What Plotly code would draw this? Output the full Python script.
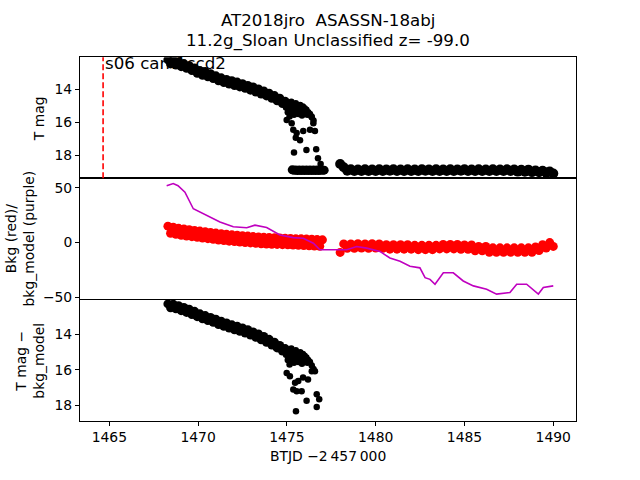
import plotly.graph_objects as go

# ---- data ----
SECTOR_START = 1464.65
SECTOR_LABEL = "s06 cam1ccd2"

# T mag, early decline (top panel)
t_decline = [1468.30, 1468.45, 1468.60, 1468.75, 1468.90, 1469.05, 1469.20, 1469.35, 1469.50, 1469.65,
             1469.80, 1469.95, 1470.10, 1470.25, 1470.40, 1470.55, 1470.70, 1470.85, 1471.00, 1471.15,
             1471.30, 1471.45, 1471.60, 1471.75, 1471.90, 1472.05, 1472.20, 1472.35, 1472.50, 1472.65,
             1472.80, 1472.95, 1473.10, 1473.25, 1473.40, 1473.55, 1473.70, 1473.85, 1474.00, 1474.15,
             1474.30, 1474.45, 1474.60, 1474.75, 1474.90, 1475.05]
mag_decline = [12.20, 12.45, 12.22, 12.52, 12.32, 12.62, 12.43, 12.72, 12.56, 12.86,
               12.70, 13.02, 12.86, 13.14, 12.92, 13.24, 13.05, 13.34, 13.18, 13.48,
               13.30, 13.58, 13.40, 13.68, 13.48, 13.77, 13.56, 13.85, 13.66, 13.94,
               13.76, 14.05, 13.86, 14.16, 13.98, 14.28, 14.10, 14.40, 14.24, 14.54,
               14.38, 14.70, 14.54, 14.86, 14.72, 15.04]

t_cluster = [1474.95, 1475.00, 1475.05, 1475.10, 1475.15, 1475.20, 1475.25, 1475.30, 1475.35, 1475.40,
             1475.45, 1475.50, 1475.55, 1475.60, 1475.65, 1475.70, 1475.75, 1475.80, 1475.85, 1475.90,
             1475.95, 1476.00, 1476.05, 1476.10, 1476.15, 1476.20, 1476.30, 1476.40, 1476.50]
mag_cluster = [15.10, 14.80, 15.40, 14.95, 15.65, 15.05, 14.75, 15.35, 14.90, 15.55,
               15.15, 14.85, 15.30, 15.00, 15.50, 15.10, 14.95, 15.25, 15.60, 15.05,
               15.35, 15.15, 15.45, 15.25, 15.55, 15.40, 15.50, 15.70, 15.90]

t_scatter = [1474.99, 1475.27, 1475.36, 1475.55, 1475.50, 1475.74, 1475.92, 1476.30, 1476.49, 1476.58,
             1476.39, 1475.40, 1476.10, 1476.65, 1476.75, 1476.90]
mag_scatter = [15.86, 16.06, 16.46, 16.66, 16.95, 17.10, 16.54, 16.46, 16.06, 16.54,
               15.66, 17.85, 17.70, 17.65, 18.20, 18.55]

# faint floor after the drop (top panel)
t_floor1 = [1475.30, 1475.40, 1475.50, 1475.60, 1475.70, 1475.80, 1475.90, 1476.00, 1476.10, 1476.20,
            1476.30, 1476.40, 1476.50, 1476.60, 1476.70, 1476.80, 1476.90, 1477.00, 1477.10]
mag_floor1 = [18.90, 18.93, 18.91, 18.94, 18.91, 18.94, 18.91, 18.94, 18.91, 18.94,
              18.91, 18.94, 18.91, 18.94, 18.91, 18.94, 18.91, 18.93, 18.92]

# second orbit
t_orbit2 = [1478.0, 1478.2, 1478.4, 1478.6, 1478.8, 1479.0, 1479.2, 1479.4, 1479.6, 1479.8,
            1480.0, 1480.2, 1480.4, 1480.6, 1480.8, 1481.0, 1481.2, 1481.4, 1481.6, 1481.8,
            1482.0, 1482.2, 1482.4, 1482.6, 1482.8, 1483.0, 1483.2, 1483.4, 1483.6, 1483.8,
            1484.0, 1484.2, 1484.4, 1484.6, 1484.8, 1485.0, 1485.2, 1485.4, 1485.6, 1485.8,
            1486.0, 1486.2, 1486.4, 1486.6, 1486.8, 1487.0, 1487.2, 1487.4, 1487.6, 1487.8,
            1488.0, 1488.2, 1488.4, 1488.6, 1488.8, 1489.0, 1489.2, 1489.4, 1489.6, 1489.8, 1490.0]
mag_floor2 = [18.55, 18.74, 18.95, 18.86, 18.97, 18.88, 18.97, 18.87, 18.97, 18.88,
              18.97, 18.87, 18.97, 18.88, 18.96, 18.87, 18.97, 18.88, 18.97, 18.87,
              18.97, 18.88, 18.97, 18.87, 18.96, 18.88, 18.97, 18.87, 18.97, 18.88,
              18.97, 18.87, 18.97, 18.88, 18.96, 18.87, 18.97, 18.88, 18.97, 18.87,
              18.97, 18.88, 18.97, 18.87, 18.97, 18.88, 18.97, 18.87, 18.97, 18.88,
              19.01, 18.90, 19.02, 18.89, 19.04, 18.94, 19.05, 18.96, 19.07, 19.00, 19.12]

# background (red), first and second orbit
t_orbit1 = [1468.30, 1468.45, 1468.60, 1468.75, 1468.90, 1469.05, 1469.20, 1469.35, 1469.50, 1469.65,
            1469.80, 1469.95, 1470.10, 1470.25, 1470.40, 1470.55, 1470.70, 1470.85, 1471.00, 1471.15,
            1471.30, 1471.45, 1471.60, 1471.75, 1471.90, 1472.05, 1472.20, 1472.35, 1472.50, 1472.65,
            1472.80, 1472.95, 1473.10, 1473.25, 1473.40, 1473.55, 1473.70, 1473.85, 1474.00, 1474.15,
            1474.30, 1474.45, 1474.60, 1474.75, 1474.90, 1475.05, 1475.20, 1475.35, 1475.50, 1475.65,
            1475.80, 1475.95, 1476.10, 1476.25, 1476.40, 1476.55, 1476.70, 1476.85, 1477.00]
bkg_orbit1 = [15.0, 8.5, 14.0, 7.5, 13.0, 6.7, 12.4, 6.0, 11.7, 5.4,
              11.1, 4.8, 10.5, 4.2, 9.9, 3.6, 9.3, 3.0, 8.7, 2.4,
              8.1, 1.8, 7.5, 1.3, 7.1, 0.9, 6.7, 0.5, 6.3, 0.1,
              5.9, -0.3, 5.5, -0.7, 5.1, -1.1, 4.8, -1.3, 4.6, -1.5,
              4.4, -1.7, 4.2, -1.9, 4.0, -2.1, 3.8, -2.3, 3.6, -2.5,
              3.4, -2.7, 3.2, -2.9, 3.0, -3.2, 2.7, -3.4, 2.5]
bkg_orbit2 = [-9.0, -1.2, -5.2, -1.2, -5.2, -1.0, -5.0, -1.2, -5.2, -1.0,
              -5.0, -1.2, -5.2, -2.0, -6.0, -2.0, -6.0, -2.0, -6.0, -2.0,
              -6.0, -2.5, -6.5, -2.5, -6.5, -2.5, -6.5, -2.5, -5.8, -1.8,
              -5.8, -1.8, -5.8, -1.8, -6.2, -2.2, -6.2, -2.2, -7.5, -3.5,
              -7.5, -3.5, -8.8, -4.8, -8.8, -4.8, -8.8, -4.8, -8.8, -4.8,
              -8.8, -4.8, -8.8, -4.8, -8.8, -4.0, -7.2, -2.0, -5.0, 0.0, -3.5]

# background model (purple)
t_model = [1468.23, 1468.60, 1468.87, 1469.26, 1469.73, 1470.48, 1471.23, 1471.98, 1472.74, 1473.20,
           1473.86, 1474.61, 1475.36, 1475.92, 1476.49, 1476.86, 1477.99, 1478.37, 1478.93, 1479.49,
           1480.24, 1480.80, 1481.37, 1481.93, 1482.49, 1482.78, 1483.06, 1483.34, 1483.81, 1484.37,
           1484.93, 1485.50, 1486.25, 1486.81, 1487.56, 1487.94, 1488.50, 1489.06, 1489.16, 1489.44, 1490.00]
bkg_model = [52.0, 54.0, 52.0, 46.0, 30.9, 25.0, 18.9, 14.4, 13.5, 15.9,
             13.8, 6.9, 4.5, 3.9, -0.6, -6.6, -6.6, -6.6, -3.6, -5.1,
             -8.1, -14.1, -17.1, -21.6, -23.1, -32.1, -33.6, -38.1, -27.6, -27.6,
             -35.1, -39.6, -42.6, -47.1, -45.6, -38.1, -38.1, -45.6, -47.1, -41.1, -39.6]

# T mag - bkg_model (bottom panel)
mag_sub_decline = [12.28, 12.50, 12.30, 12.56, 12.38, 12.66, 12.48, 12.76, 12.58, 12.88,
                   12.70, 13.00, 12.84, 13.12, 12.94, 13.22, 13.04, 13.32, 13.14, 13.44,
                   13.26, 13.54, 13.36, 13.64, 13.46, 13.74, 13.54, 13.82, 13.64, 13.92,
                   13.74, 14.04, 13.86, 14.16, 13.98, 14.30, 14.12, 14.44, 14.28, 14.60,
                   14.44, 14.76, 14.62, 14.94, 14.80, 15.10]
mag_sub_cluster = [15.15, 14.85, 15.45, 15.00, 15.70, 15.10, 14.80, 15.40, 14.95, 15.60,
                   15.20, 14.90, 15.35, 15.05, 15.55, 15.15, 15.00, 15.30, 15.65, 15.10,
                   15.40, 15.20, 15.50, 15.30, 15.60, 15.45, 15.55, 15.75, 15.95]
t_sub_scatter = [1474.99, 1475.17, 1475.46, 1475.64, 1475.91, 1476.19, 1476.40, 1476.58, 1475.36, 1475.55,
                 1475.83, 1476.11, 1476.68, 1476.82, 1476.68, 1475.51]
mag_sub_scatter = [16.17, 16.36, 16.72, 16.63, 16.43, 16.54, 16.08, 16.08, 17.10, 17.20,
                   17.20, 17.74, 17.37, 17.65, 18.10, 18.33]

X_TICKS = [1465, 1470, 1475, 1480, 1485, 1490]

FONT = "DejaVu Sans, Arial, sans-serif"
MAGENTA = "#bf00bf"
W, H = 640, 480


def _px(x):
    # window column -> paper fraction
    return x / W


def _py(y):
    # window row -> paper fraction
    return (H - y) / H


def _dots(x, y, color, size, xa, ya):
    return go.Scatter(x=x, y=y, mode="markers",
                      marker={"color": color, "size": size, "line": {"width": 0}},
                      xaxis=xa, yaxis=ya, hoverinfo="skip")


fig = go.Figure()

# top: T mag
fig.add_trace(_dots(t_decline + t_floor1, mag_decline + mag_floor1, "black", 9, "x3", "y"))
fig.add_trace(_dots(t_orbit2, mag_floor2, "black", 10, "x3", "y"))
fig.add_trace(_dots(t_cluster + t_scatter, mag_cluster + mag_scatter, "black", 6.5, "x3", "y"))

# middle: background and model
fig.add_trace(_dots(t_orbit1 + t_orbit2, bkg_orbit1 + bkg_orbit2, "red", 9, "x2", "y2"))
fig.add_trace(go.Scatter(
    x=t_model, y=bkg_model, mode="lines",
    line={"color": MAGENTA, "width": 1.6},
    xaxis="x2", yaxis="y2", hoverinfo="skip",
))

# bottom: subtracted
fig.add_trace(_dots(t_decline, mag_sub_decline, "black", 9, "x", "y3"))
fig.add_trace(_dots(t_cluster + t_sub_scatter, mag_sub_cluster + mag_sub_scatter,
                    "black", 6.5, "x", "y3"))

fig.add_shape(type="line", xref="x3", yref="y domain",
              x0=SECTOR_START, x1=SECTOR_START, y0=0, y1=1,
              line={"color": "red", "width": 1.6, "dash": "6px,3px"})

x_dom = [_px(80), _px(576)]
axis_common = dict(showline=True, linecolor="black", linewidth=1, mirror=True,
                   showgrid=False, zeroline=False, ticks="outside", ticklen=4,
                   tickcolor="black", tickwidth=1,
                   tickfont={"family": FONT, "size": 13.9, "color": "black"})

fig.update_layout(
    width=W, height=H,
    margin={"l": 0, "r": 0, "t": 0, "b": 0},
    paper_bgcolor="white", plot_bgcolor="white",
    showlegend=False,
    xaxis=dict(axis_common, domain=x_dom, range=[1463.35, 1491.28], anchor="y3",
               tickvals=X_TICKS, mirror=False),
    xaxis2=dict(axis_common, domain=x_dom, matches="x", anchor="y2",
                showticklabels=False, ticks=""),
    xaxis3=dict(axis_common, domain=x_dom, matches="x", anchor="y",
                showticklabels=False, ticks=""),
    yaxis=dict(axis_common, domain=[_py(181), _py(58)], range=[19.42, 12.04],
               tickvals=[14, 16, 18], anchor="x3"),
    yaxis2=dict(axis_common, domain=[_py(303), _py(181)], range=[-51.2, 58.7],
                tickvals=[-50, 0, 50], anchor="x2"),
    yaxis3=dict(axis_common, domain=[_py(427), _py(303)], range=[18.87, 11.98],
                tickvals=[14, 16, 18], anchor="x"),
)

txt = {"family": FONT, "color": "black"}
notes = [
    dict(text="AT2018jro  ASASSN-18abj", x=328, y=21, size=16.67, angle=0),
    dict(text="11.2g_Sloan Unclassified z= -99.0", x=328, y=42, size=16.67, angle=0),
    dict(text="BTJD \u22122\u2009457\u2009000", x=328, y=463, size=13.9, angle=0),
    dict(text="T mag", x=39, y=121, size=13.9, angle=-90),
    dict(text="Bkg (red)/<br>bkg_model (purple)", x=20, y=242, size=13.9, angle=-90),
    dict(text="T mag \u2212<br>bkg_model", x=30, y=366, size=13.9, angle=-90),
]
for n in notes:
    fig.add_annotation(text=n["text"], x=_px(n["x"]), y=_py(n["y"]), xref="paper", yref="paper",
                       xanchor="center", yanchor="middle", showarrow=False,
                       textangle=n["angle"], font=dict(txt, size=n["size"]))

fig.add_annotation(text=SECTOR_LABEL, x=SECTOR_START, y=1, xref="x3", yref="y domain",
                   xanchor="left", yanchor="top", xshift=0, yshift=5, showarrow=False,
                   font=dict(txt, size=16.67))

# drop the default body margin so the figure fills the window exactly
fig.write_html("out.html", config={"displayModeBar": False},
               post_script="document.body.style.margin = '0';")
